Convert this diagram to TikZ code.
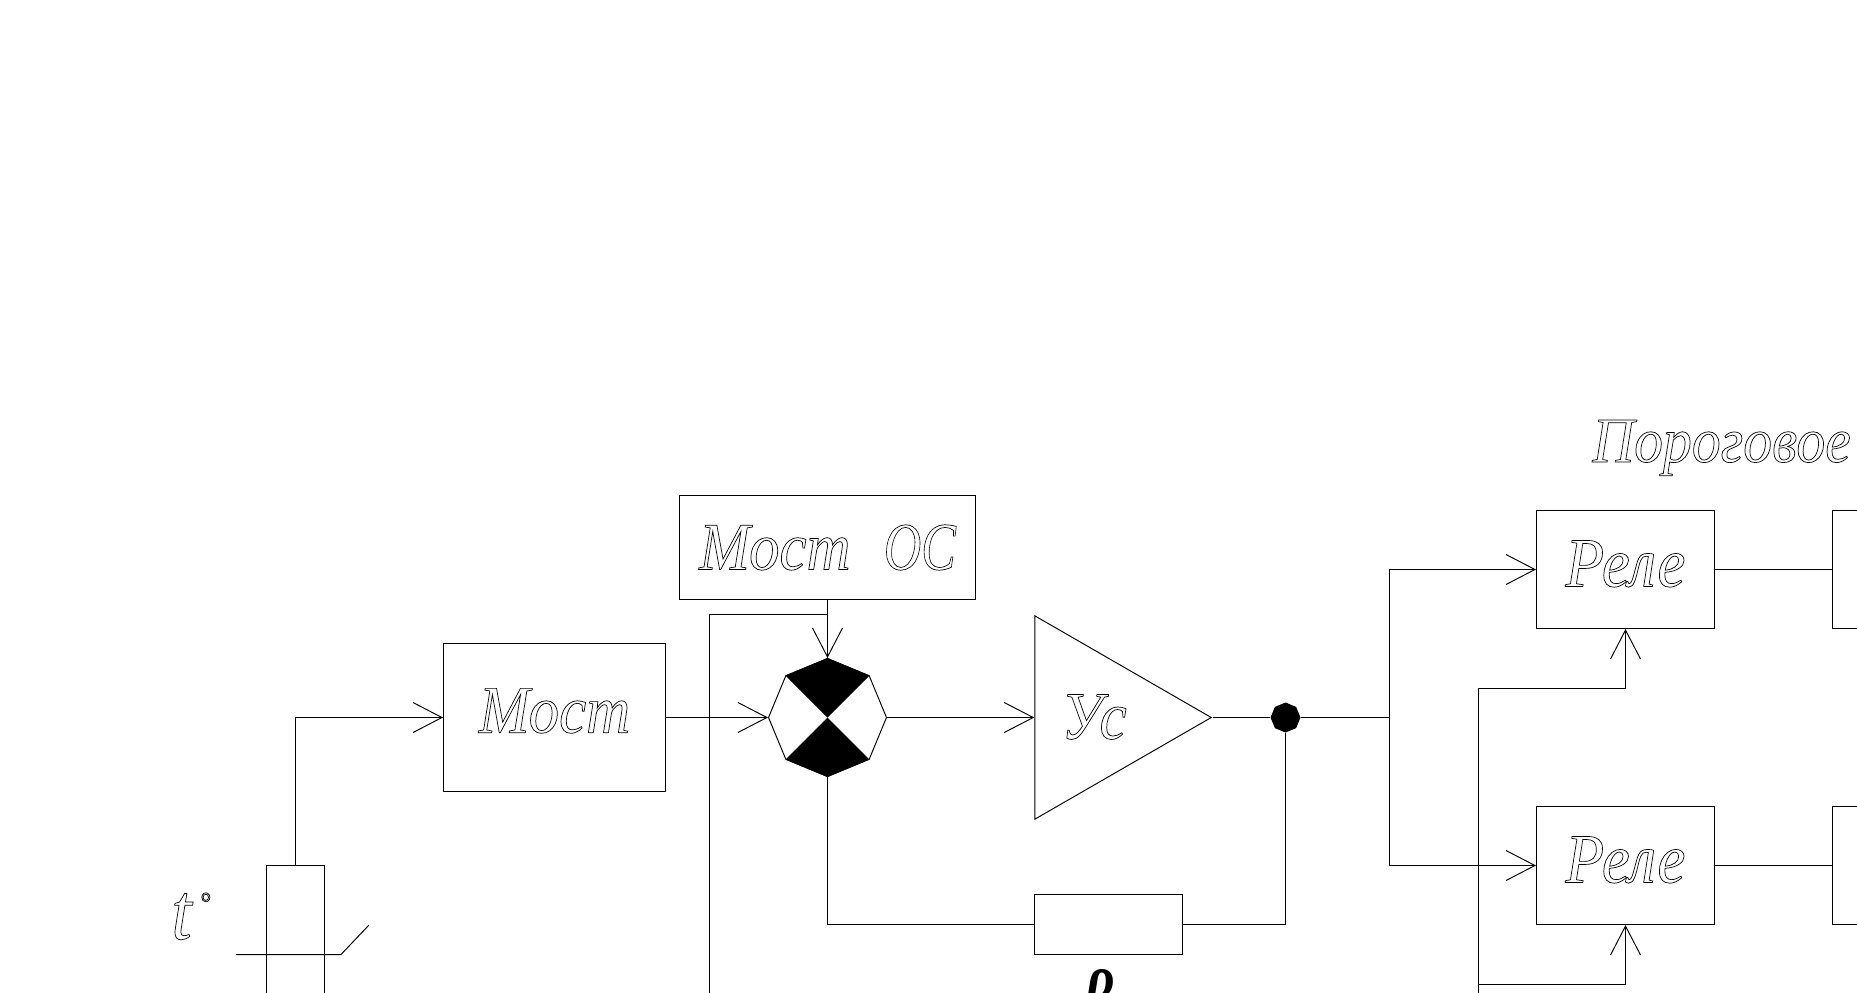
\documentclass[tikz,border=0pt]{standalone}
\usepackage{fontspec}
\setmainfont[FakeStretch=0.9]{Liberation Serif}
\usetikzlibrary{arrows.meta,shapes.geometric}
\newcommand{\hollowtxt}[1]{\special{pdf:code 1 Tr 0.4 w}#1\special{pdf:code 0 Tr}}
\begin{document}
\begin{tikzpicture}[x=0.02cm, y=-0.02cm, line width=0.55pt,
  every node/.style={font=\fontsize{38.5}{40}\selectfont\itshape},
  b/.style={draw, inner sep=0pt, minimum width=#1},
  rele/.style={b=3.56cm, minimum height=2.36cm, text depth=0.24cm, font=\fontsize{40}{42}\selectfont\itshape},
  arr/.style={-{Straight Barb[length=0.58cm, width=0.6cm]}}]
  \clip (0,0) rectangle (1857,992);
  % sensor
  \node[b=1.16cm, minimum height=4.7cm] (sensor) at (295.5,982.5) {};
  \node[anchor=base west, inner sep=0pt, font=\fontsize{46}{48}\selectfont\itshape] (tlabel) at (171,939) {\hollowtxt{t}\hspace{5pt}\raisebox{15pt}{\fontsize{17}{17}\selectfont\upshape\hollowtxt{°}}};
  \coordinate (conta) at (236,954.5);
  \coordinate (contb) at (341,954.5);
  \coordinate (contc) at (369,925);
  \draw (conta) -- (contb) -- (contc);
  % main line
  \node[b=4.44cm, minimum height=2.96cm, text depth=0.28cm] (most) at (554.5,717.5) {\hollowtxt{Мост}};
  \node[b=5.92cm, minimum height=2.08cm] (mostos) at (827.5,547.5) {\hollowtxt{Мост}\hspace{19pt}\scalebox{0.85}[1]{\hollowtxt{ОС}}\hspace{4pt}};
  \node[draw, regular polygon, regular polygon sides=8, shape border rotate=22.5, minimum size=2.36cm, inner sep=0pt] (sum) at (827.5,717.5) {};
  \fill (sum.center) -- (sum.135) -- (sum.north) -- (sum.45) -- cycle;
  \fill (sum.center) -- (sum.225) -- (sum.south) -- (sum.315) -- cycle;
  \node[draw, isosceles triangle, isosceles triangle stretches, minimum width=4.07cm, minimum height=3.53cm, inner sep=0pt, anchor=apex] (ampl) at (1212.5,717.5) {};
  \node[inner sep=0pt] (ampltxt) at (1094,717) {\hollowtxt{Ус}};
  \node[fill, regular polygon, regular polygon sides=8, shape border rotate=22.5, minimum size=0.6cm, inner sep=0pt] (dot) at (1285.5,717.5) {};
  \node[b=2.96cm, minimum height=1.2cm] (res) at (1108.5,924.5) {};
  \node[anchor=base west, inner sep=0pt, font=\fontsize{34}{36}\selectfont\bfseries\itshape] (rho) at (1087,997) {ρ};
  \coordinate (bus) at (1389.5,717.5);
  \coordinate (osbr) at (827.5,614.5);
  \coordinate (osend) at (709.5,1000);
  % relays
  \node[rele] (rele1) at (1625.5,569.5) {\hollowtxt{Реле}};
  \node[rele] (rele2) at (1625.5,865.5) {\hollowtxt{Реле}};
  \node[rele] (next1) at (1921.5,569.5) {};
  \node[rele] (next2) at (1921.5,865.5) {};
  \node[anchor=base west, inner sep=0pt, font=\fontsize{36.5}{38}\selectfont\itshape] (thrtxt) at (1592,462) {\hollowtxt{Пороговое}};
  \coordinate (thrend) at (1478.5,1000);
  \coordinate (thra) at (1478.5,688.5);
  \coordinate (thrb) at (1478.5,984.5);
  % connectors
  \draw[arr] (sensor.north) |- (most.west);
  \draw[arr] (most.east) -- (sum.west);
  \draw[arr] (mostos.south) -- (sum.north);
  \draw (osbr) -| (osend);
  \draw[arr] (sum.east) -- (ampl.west);
  \draw (ampl.apex) -- (dot) -- (bus);
  \draw (sum.south) |- (res.west);
  \draw (dot) |- (res.east);
  \draw[arr] (bus) |- (rele1.west);
  \draw[arr] (bus) |- (rele2.west);
  \draw (rele1) -- (next1);
  \draw (rele2) -- (next2);
  \draw[arr] (thrend) -- (thra) -| (rele1.south);
  \draw[arr] (thrb) -| (rele2.south);
\end{tikzpicture}
\end{document}
